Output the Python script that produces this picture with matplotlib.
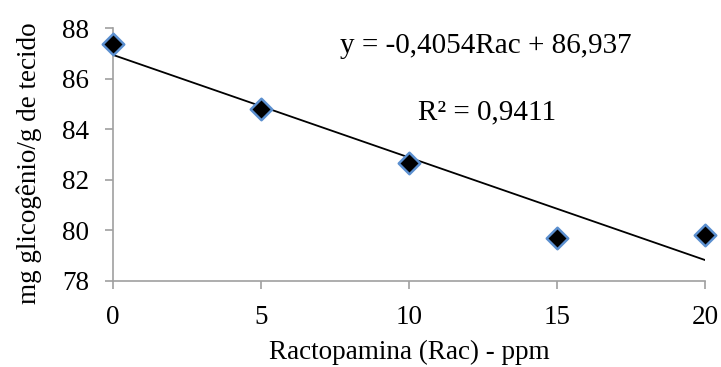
import matplotlib.pyplot as plt
import numpy as np

plt.rcParams['font.family'] = ['Liberation Serif', 'DejaVu Serif']

# data
rac = [0, 5, 10, 15, 20]
glicogenio = [87.37, 84.8, 82.65, 79.71, 79.82]
slope = -0.4054
intercept = 86.937

fig = plt.figure(figsize=(7.21, 3.67), dpi=100)
ax = fig.add_axes([113 / 721, 1 - 281 / 367, (705 - 113) / 721, (281 - 28) / 367])

xfit = np.array([min(rac), max(rac)])
ax.plot(xfit, slope * xfit + intercept, color='black', lw=1.3, zorder=2)
ax.scatter(rac, glicogenio, marker='D', s=120, color='black',
           edgecolors='#5b8fcf', linewidths=1.8, zorder=3, clip_on=False)

ax.set_xlim(0, 20)
ax.set_ylim(78, 88)
ax.set_xticks([0, 5, 10, 15, 20])
ax.set_yticks([78, 80, 82, 84, 86, 88])

for s in ['top', 'right']:
    ax.spines[s].set_visible(False)
for s in ['left', 'bottom']:
    ax.spines[s].set_color('#a0a0a0')
    ax.spines[s].set_linewidth(1.2)
ax.tick_params(colors='#a0a0a0', labelcolor='black', labelsize=19.5,
               length=6, width=1.2, direction='out')
ax.tick_params(axis='y', pad=11)
ax.tick_params(axis='x', pad=11)

fig.text(409 / 721, 1 - 352 / 367, 'Ractopamina (Rac) - ppm', fontsize=19.5,
         ha='center', va='center')
fig.text(29 / 721, 1 - 163 / 367, 'mg glicogênio/g de tecido', fontsize=19.5,
         ha='center', va='center', rotation=90)

ax.text(0.383, 0.93, 'y = -0,4054Rac + 86,937', transform=ax.transAxes,
        fontsize=21, va='center', ha='left')
ax.text(0.515, 0.668, 'R² = 0,9411', transform=ax.transAxes,
        fontsize=21, va='center', ha='left')

fig.savefig('out.png', dpi=100)
